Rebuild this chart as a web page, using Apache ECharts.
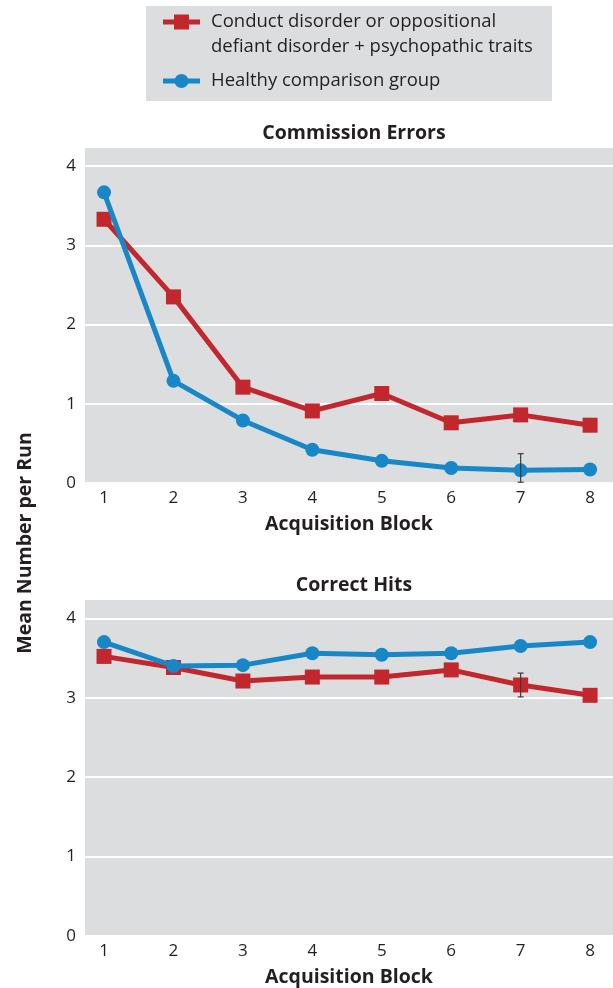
<!DOCTYPE html>
<html><head><meta charset="utf-8">
<script src="https://cdn.jsdelivr.net/npm/echarts@6/dist/echarts.min.js"></script>
<style>html,body{margin:0;padding:0;background:#fff}#c{width:613px;height:988px}</style>
</head><body><div id="c"></div>
<script>
const blocks = [1,2,3,4,5,6,7,8];
const seriesNames = ['Conduct disorder or oppositional\ndefiant disorder + psychopathic traits', 'Healthy comparison group'];
const commissionCD = [3.33, 2.35, 1.21, 0.91, 1.13, 0.76, 0.86, 0.73];
const commissionHC = [3.67, 1.29, 0.79, 0.42, 0.28, 0.19, 0.16, 0.17];
const hitsCD = [3.52, 3.38, 3.21, 3.26, 3.26, 3.35, 3.16, 3.03];
const hitsHC = [3.70, 3.40, 3.41, 3.56, 3.54, 3.56, 3.65, 3.70];
// error bars: [block, low, high]
const commissionErr = [[7, 0.01, 0.37]];
const hitsErr = [[7, 3.01, 3.31]];
const yTicks = [0,1,2,3,4];
const titles = ['Commission Errors', 'Correct Hits'];
const xName = 'Acquisition Block';
const yName = 'Mean Number per Run';

const RED = '#c1272d', BLUE = '#1787c8', BG = '#dcdddf', TXT = '#231f20';
const FONT = 'Open Sans';

function pairs(v){ return v.map((y,i)=>[blocks[i], y]); }

const chart = echarts.init(document.getElementById('c'));
function xAxis(gi){
  return {gridIndex: gi, type:'value', min:0.726, max:8.33,
    axisLine:{show:false}, axisTick:{show:false, customValues: blocks}, splitLine:{show:false},
    axisLabel:{customValues: blocks, color: TXT, fontFamily: FONT, fontSize: 17, margin: 7},
    name: xName, nameLocation:'middle', nameGap: 31,
    nameTextStyle:{color: TXT, fontFamily: FONT, fontSize: 19.5, fontWeight:'bold'}};
}
function yAxis(gi){
  return {gridIndex: gi, type:'value', min:0, max:4.23,
    axisLine:{show:false}, axisTick:{show:false, customValues: yTicks},
    axisLabel:{customValues: yTicks, color: TXT, fontFamily: FONT, fontSize: 17, margin: 9},
    splitLine:{show:true, lineStyle:{color:'#ffffff', width:2}}};
}
function lineSeries(name, data, color, symbol, size, gi){
  return {type:'line', name, xAxisIndex: gi, yAxisIndex: gi, data: pairs(data),
    symbol, symbolSize: size, showSymbol:true, lineStyle:{color, width:5},
    itemStyle:{color}, z: symbol==='rect'?3:4, animation:false};
}
function errSeries(data, gi){
  return {type:'custom', xAxisIndex: gi, yAxisIndex: gi, data, z: 10, animation:false,
    renderItem(params, api){
      const x = api.value(0);
      const lo = api.coord([x, api.value(1)]);
      const hi = api.coord([x, api.value(2)]);
      const st = {stroke:'#3a3a3a', lineWidth:1.2};
      return {type:'group', children:[
        {type:'line', shape:{x1:lo[0], y1:lo[1], x2:hi[0], y2:hi[1]}, style: st},
        {type:'line', shape:{x1:lo[0]-3, y1:lo[1], x2:lo[0]+3, y2:lo[1]}, style: st},
        {type:'line', shape:{x1:hi[0]-3, y1:hi[1], x2:hi[0]+3, y2:hi[1]}, style: st}
      ]};
    }};
}

const legendFont = '18.5px "Open Sans"';
chart.setOption({
  animation:false,
  textStyle:{fontFamily: FONT},
  title: [
    {text: titles[0], left: 349, top: 118, textAlign:'center', textStyle:{color:TXT, fontFamily:FONT, fontSize:19.5, fontWeight:'bold'}},
    {text: titles[1], left: 349, top: 570, textAlign:'center', textStyle:{color:TXT, fontFamily:FONT, fontSize:19.5, fontWeight:'bold'}}
  ],
  grid: [
    {left:85, right:0, top:148, height:335, show:true, backgroundColor:BG, borderWidth:0},
    {left:85, right:0, top:600, height:336, show:true, backgroundColor:BG, borderWidth:0}
  ],
  xAxis:[xAxis(0), xAxis(1)],
  yAxis:[yAxis(0), yAxis(1)],
  graphic:[
    {type:'text', x: 25, y: 543, rotation: Math.PI/2,
      style:{text: yName, fill:TXT, font:'bold 19.5px "Open Sans"', align:'center', verticalAlign:'middle'}},
    {type:'group', children:[
      {type:'rect', shape:{x:146, y:6, width:406, height:95}, style:{fill:BG}},
      {type:'line', shape:{x1:163, y1:22, x2:200, y2:22}, style:{stroke:RED, lineWidth:5}},
      {type:'rect', shape:{x:174, y:14.5, width:15, height:15}, style:{fill:RED}},
      {type:'text', x:211, y:9.5, style:{text: seriesNames[0], fill:TXT, font: legendFont, lineHeight:25, verticalAlign:'top'}},
      {type:'line', shape:{x1:163, y1:81, x2:200, y2:81}, style:{stroke:BLUE, lineWidth:5}},
      {type:'circle', shape:{cx:181.5, cy:81, r:7}, style:{fill:BLUE}},
      {type:'text', x:211, y:81, style:{text: seriesNames[1], fill:TXT, font: legendFont, verticalAlign:'middle'}}
    ]}
  ],
  series:[
    lineSeries(seriesNames[0], commissionCD, RED, 'rect', 15, 0),
    lineSeries(seriesNames[1], commissionHC, BLUE, 'circle', 14, 0),
    lineSeries(seriesNames[0], hitsCD, RED, 'rect', 15, 1),
    lineSeries(seriesNames[1], hitsHC, BLUE, 'circle', 14, 1),
    errSeries(commissionErr, 0),
    errSeries(hitsErr, 1)
  ]
});
</script></body></html>
